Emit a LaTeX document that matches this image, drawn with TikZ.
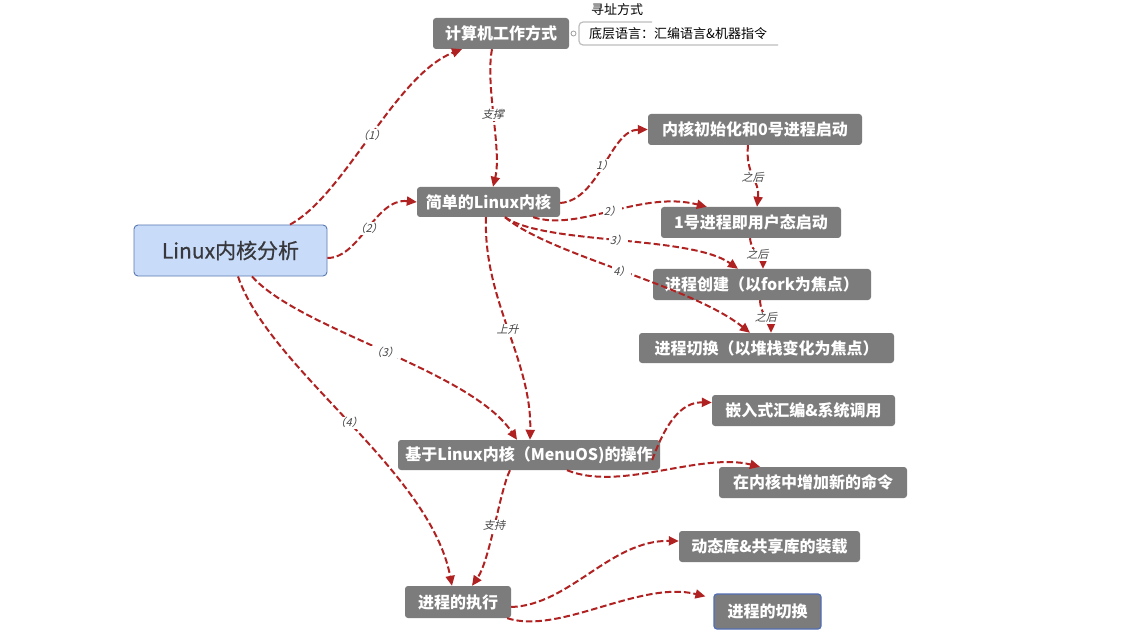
\documentclass[tikz,border=0pt]{standalone}
\usepackage{fontspec}
\setmainfont{Noto Sans CJK SC}
\newfontfamily\lblfont[FakeSlant=0.25]{Noto Sans CJK SC}
\newfontfamily\rootfont[FakeBold=0.6]{Noto Sans CJK SC}
\usetikzlibrary{arrows.meta,calc}
\definecolor{edgered}{RGB}{176,34,34}
\definecolor{nodegray}{RGB}{124,124,124}
\definecolor{rootfill}{RGB}{200,220,250}
\definecolor{rootline}{RGB}{90,120,175}
\definecolor{swline}{RGB}{80,110,180}
\tikzset{
  gnode/.style={draw=none, fill=nodegray, rounded corners=3pt, text=white,
    font=\bfseries\fontsize{16}{18}\selectfont, inner sep=0pt},
  rootnode/.style={draw=rootline, line width=0.9pt, fill=rootfill, rounded corners=4pt,
    text={rgb,255:red,55;green,55;blue,60}, font=\rootfont\fontsize{21}{24}\selectfont, inner sep=0pt},
  conn/.style={draw=edgered, line width=2pt, dash pattern=on 6.5pt off 3pt,
    -{Triangle[length=10pt,width=9pt]}},
  lbl/.style={fill=white, inner sep=1pt, text={rgb,255:red,70;green,70;blue,70},
    font=\lblfont\fontsize{11}{12}\selectfont},
  plaintext/.style={font=\fontsize{13}{15}\selectfont, text=black, inner sep=0pt}
}
\begin{document}
\begin{tikzpicture}[x=1pt,y=1pt]
\useasboundingbox (0,0) rectangle (1129,-636);
\fill[white] (0,0) rectangle (1129,-636);

% nodes
\node[rootnode, minimum width=193pt, minimum height=51pt] (root) at (230.5,-250.5) {Linux内核分析};
\node[gnode, minimum width=136pt, minimum height=31pt] (comp) at (501,-33.5) {计算机工作方式};
\node[gnode, minimum width=143pt, minimum height=30pt] (simple) at (488.5,-202) {简单的Linux内核};
\node[gnode, minimum width=214pt, minimum height=31pt] (init) at (755,-129.5) {内核初始化和0号进程启动};
\node[gnode, minimum width=180pt, minimum height=31pt] (one) at (751,-222.5) {1号进程即用户态启动};
\node[gnode, minimum width=218pt, minimum height=31pt] (create) at (762,-284.5) {进程创建（以fork为焦点）};
\node[gnode, minimum width=255pt, minimum height=30pt] (switch) at (766.5,-348) {进程切换（以堆栈变化为焦点）};
\node[gnode, minimum width=262pt, minimum height=30pt] (based) at (529,-455) {基于Linux内核（MenuOS)的操作};
\node[gnode, minimum width=183pt, minimum height=31pt] (embed) at (803.5,-410.5) {嵌入式汇编\&系统调用};
\node[gnode, minimum width=188pt, minimum height=31pt] (addcmd) at (813,-482.5) {在内核中增加新的命令};
\node[gnode, minimum width=181pt, minimum height=31pt] (dyn) at (769.5,-546.5) {动态库\&共享库的装载};
\node[gnode, minimum width=106pt, minimum height=32pt] (exec) at (458,-602) {进程的执行};
\node[gnode, draw=swline, line width=1.2pt, minimum width=107pt, minimum height=35pt] (sw2) at (767.5,-611.5) {进程的切换};

% sub-items of comp
\node[plaintext, anchor=west] (addr) at (591,-10) {寻址方式};
\node[plaintext, anchor=west] (lang) at (589,-34) {底层语言：汇编语言\&机器指令};
\draw[color={rgb,255:red,190;green,190;blue,190}, line width=1.2pt]
  (652,-22) -- (583,-22) to[out=180,in=90] (579,-26) -- (579,-41) to[out=-90,in=180] (583,-45) -- (778,-45);
\node[draw={rgb,255:red,160;green,160;blue,160}, circle, line width=0.8pt, minimum size=5pt, inner sep=0pt, fill=white] (knob) at (573.5,-33.5) {};

% connectors from root
\draw[conn] ($(root.north)+(59.5,0)$) .. controls (345,-195) and (395,-75) .. ($(comp.south)+(-39,0)$)
  node[lbl, pos=0.5] {（1）};
\draw[conn] ($(root.east)+(0,-7.5)$) .. controls (360,-258) and (375,-198) .. (simple.west)
  node[lbl, pos=0.5] {（2）};
\draw[conn] ($(root.south)+(21.5,0)$) .. controls (300,-330) and (470,-370) .. ($(based.north)+(-12,0)$)
  node[lbl, pos=0.5] {（3）};
\draw[conn] ($(root.south)+(7.5,0)$) .. controls (270,-370) and (430,-470) .. ($(exec.north)+(-6,0)$)
  node[lbl, pos=0.5] {（4）};

% comp -> simple
\draw[conn] ($(comp.south)+(-9,0)$) .. controls (485,-85) and (502,-150) .. ($(simple.north)+(4.5,0)$)
  node[lbl, pos=0.48] {支撑};

% simple -> children
\draw[conn] ($(simple.east)+(0,-1)$) .. controls (600,-200) and (610,-130) .. (init.west)
  node[lbl, pos=0.5] {1）};
\draw[conn] ($(simple.south east)+(-27,0)$) .. controls (580,-232) and (640,-190) .. ($(one.north west)+(46,0)$)
  node[lbl, pos=0.5] {2）};
\draw[conn] ($(simple.south)+(16.5,0)$) .. controls (545,-245) and (690,-235) .. ($(create.north)+(-24,0)$)
  node[lbl, pos=0.5] {3）};
\draw[conn] ($(simple.south)+(16.5,0)$) .. controls (550,-255) and (690,-285) .. ($(switch.north)+(-16.5,0)$)
  node[lbl, pos=0.5] {4）};

% sequence
\draw[conn] ($(init.south)+(-7,0)$) .. controls (745,-175) and (760,-180) .. ($(one.north)+(6,0)$)
  node[lbl, pos=0.5] {之后};
\draw[conn] ($(one.south)+(-1,0)$) .. controls (752,-255) and (763,-255) .. ($(create.north)+(1,0)$)
  node[lbl, pos=0.5] {之后};
\draw[conn] ($(create.south)+(-2,0)$) .. controls (761,-318) and (771,-318) .. ($(switch.north)+(4.5,0)$)
  node[lbl, pos=0.5] {之后};

% simple -> based
\draw[conn] ($(simple.south)+(-2.5,0)$) .. controls (483,-300) and (532,-360) .. ($(based.north)+(1,0)$)
  node[lbl, pos=0.5] {上升};

% based -> children
\draw[conn] ($(based.east)+(-8,-5)$) .. controls (665,-425) and (680,-402) .. ($(embed.west)+(0,8)$);
\draw[conn] ($(based.south)+(38,0)$) .. controls (620,-492) and (700,-452) .. ($(addcmd.north)+(-53,0)$);
\draw[conn] ($(based.south)+(-19,0)$) .. controls (500,-490) and (490,-560) .. ($(exec.north)+(14,0)$)
  node[lbl, pos=0.5] {支持};

% exec -> children
\draw[conn] ($(exec.east)+(0,-5)$) .. controls (570,-605) and (610,-540) .. ($(dyn.west)+(0,5.5)$);
\draw[conn] ($(exec.south east)+(-4,0)$) .. controls (560,-635) and (640,-580) .. ($(sw2.north west)+(-8,-3)$);
\end{tikzpicture}
\end{document}
